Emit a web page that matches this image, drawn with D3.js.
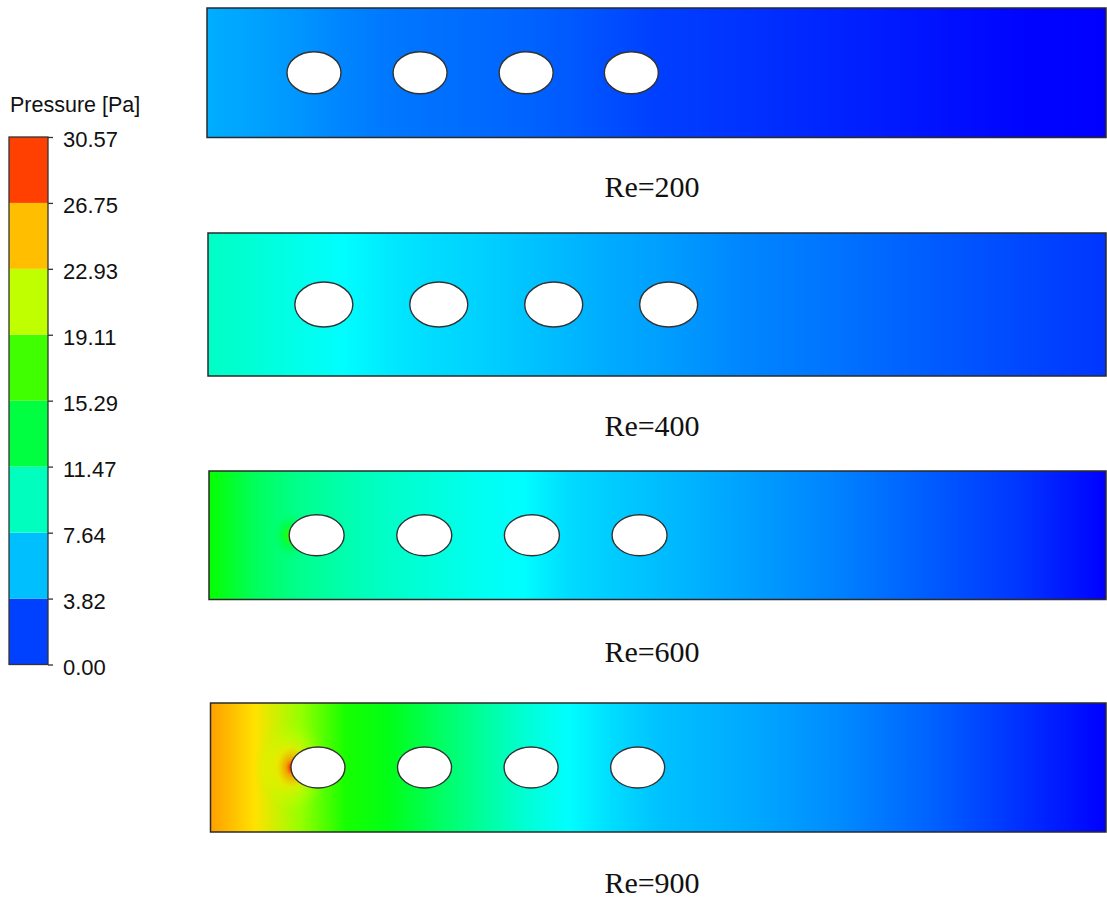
<!DOCTYPE html>
<html>
<head>
<meta charset="utf-8">
<script src="https://cdn.jsdelivr.net/npm/d3@7"></script>
<style>
  body { margin: 0; background: #fff; }
  svg { display: block; }
</style>
</head>
<body>
<div id="chart"></div>
<script>
// pressure contours of the channel, four Reynolds numbers

// data
var reLabels = ["Re=200", "Re=400", "Re=600", "Re=900"];
var legendTicks = [0.00, 3.82, 7.64, 11.47, 15.29, 19.11, 22.93, 26.75, 30.57];
var pMax = 30.57;

// positions along the channel (fraction of length) where the pressure was read
var profileX = [0, 0.05, 0.1, 0.15, 0.2, 0.25, 0.3, 0.35, 0.4, 0.45, 0.5, 0.6, 0.7, 0.8, 0.9, 1.0];
var pressRe200 = [5.2, 4.9, 4.5, 4.0, 3.6, 3.4, 3.2, 3.0, 2.7, 2.3, 1.9, 1.5, 1.05, 0.6, 0.15, 0.0];
var pressRe400 = [9.4, 8.9, 8.3, 7.6, 7.0, 6.6, 6.3, 5.9, 5.5, 5.1, 4.8, 4.0, 3.45, 2.8, 2.2, 1.6];
var pressRe600 = [15.5, 12.6, 11.1, 10.1, 9.3, 8.7, 8.1, 7.6, 6.6, 6.1, 5.7, 4.8, 3.9, 2.8, 1.65, 0.0];
var pressRe900 = [25.8, 23.8, 19.8, 16.0, 14.6, 12.6, 10.8, 9.0, 7.6, 6.6, 5.8, 5.1, 4.2, 3.0, 1.5, 0.0];
var pressures = [pressRe200, pressRe400, pressRe600, pressRe900];

// cylinder centres (fraction of channel length), all on the centre line
var cylRe200 = [0.119, 0.237, 0.355, 0.472];
var cylRe400 = [0.129, 0.257, 0.385, 0.513];
var cylRe600 = [0.120, 0.240, 0.360, 0.480];
var cylRe900 = [0.120, 0.239, 0.358, 0.477];
var cylinders = [cylRe200, cylRe400, cylRe600, cylRe900];
// stagnation pressure in front of the first cylinder (null = not visible)
var stagnation = [null, null, 19.5, 30.5];

// layout
var svgWidth = 1107;
var svgHeight = 901;
var panels = [
  {x: 207, y: 8, w: 899, h: 129.5, rx: 27, ry: 21, label: 197, glow: 0},
  {x: 208, y: 233, w: 898, h: 143, rx: 29, ry: 22.5, label: 436, glow: 0},
  {x: 209, y: 471, w: 897, h: 128.5, rx: 27.5, ry: 20.5, label: 662, glow: 22},
  {x: 210.5, y: 703, w: 895.5, h: 129, rx: 27, ry: 20.5, label: 893, glow: 38}
];

var svg = d3.select("#chart")
  .append("svg")
  .attr("width", svgWidth)
  .attr("height", svgHeight);

svg.append("rect")
  .attr("width", svgWidth)
  .attr("height", svgHeight)
  .attr("fill", "#fff");

var defs = svg.append("defs");

// Fluent style rainbow
var color = d3.scaleLinear()
  .domain([0, 0.25, 0.5, 0.75, 1].map(function(f) { return f * pMax; }))
  .range(["#0000ff", "#00ffff", "#00ff00", "#ffff00", "#ff0000"])
  .clamp(true);

// ---------- legend ----------
var yLegend = d3.scaleLinear()
  .domain([0, pMax])
  .range([664.5, 137]);

var legend = svg.append("g");

legend.append("text")
  .attr("x", 10)
  .attr("y", 112)
  .attr("font-family", "Liberation Sans, Arial, sans-serif")
  .attr("font-size", 21.5)
  .attr("fill", "#111")
  .text("Pressure [Pa]");

var bands = d3.pairs(legendTicks);
legend.selectAll("rect.band")
  .data(bands)
  .enter()
  .append("rect")
  .attr("class", "band")
  .attr("x", 9)
  .attr("width", 39)
  .attr("y", function(d) { return yLegend(d[1]); })
  .attr("height", function(d) { return yLegend(d[0]) - yLegend(d[1]); })
  .attr("fill", function(d) { return color((d[0] + d[1]) / 2); });

legend.append("rect")
  .attr("x", 9)
  .attr("y", yLegend(pMax))
  .attr("width", 39)
  .attr("height", yLegend(0) - yLegend(pMax))
  .attr("fill", "none")
  .attr("stroke", "#333")
  .attr("stroke-width", 1.3);

var legendAxis = legend.append("g")
  .attr("transform", "translate(48,0)")
  .call(d3.axisRight(yLegend)
    .tickValues(legendTicks)
    .tickFormat(d3.format(".2f"))
    .tickSize(5)
    .tickPadding(10));

legendAxis.select(".domain").remove();
legendAxis.selectAll("line").attr("stroke", "#333").attr("stroke-width", 1.3);
legendAxis.selectAll("text")
  .attr("font-family", "Liberation Sans, Arial, sans-serif")
  .attr("font-size", 22)
  .attr("fill", "#111")
  .attr("dy", "0.45em");

// ---------- panels ----------
panels.forEach(function(p, i) {
  var x = d3.scaleLinear().domain([0, 1]).range([p.x, p.x + p.w]);
  var y = d3.scaleLinear().domain([0, 1]).range([p.y, p.y + p.h]);

  // pressure along the channel as a gradient
  var grad = defs.append("linearGradient")
    .attr("id", "field" + i)
    .attr("x1", 0).attr("x2", 1)
    .attr("y1", 0).attr("y2", 0);
  grad.selectAll("stop")
    .data(profileX)
    .enter()
    .append("stop")
    .attr("offset", function(d) { return d; })
    .attr("stop-color", function(d, k) { return color(pressures[i][k]); });

  defs.append("clipPath")
    .attr("id", "clip" + i)
    .append("rect")
    .attr("x", x(0)).attr("y", y(0))
    .attr("width", x(1) - x(0)).attr("height", y(1) - y(0));

  var g = svg.append("g");

  g.append("rect")
    .attr("x", x(0)).attr("y", y(0))
    .attr("width", x(1) - x(0)).attr("height", y(1) - y(0))
    .attr("fill", "url(#field" + i + ")");

  // stagnation region in front of the first cylinder
  if (stagnation[i] !== null) {
    var peak = stagnation[i];
    var base = pressures[i][2];
    var rg = defs.append("radialGradient").attr("id", "stag" + i);
    var steps = [0, 0.15, 0.4, 0.7, 1];
    var alpha = [1, 0.85, 0.55, 0.25, 0];
    rg.selectAll("stop")
      .data(steps)
      .enter()
      .append("stop")
      .attr("offset", function(d) { return d; })
      .attr("stop-color", function(d) { return color(peak - (peak - base) * Math.sqrt(d)); })
      .attr("stop-opacity", function(d, k) { return alpha[k]; });
    g.append("ellipse")
      .attr("clip-path", "url(#clip" + i + ")")
      .attr("cx", x(cylinders[i][0]) - p.rx + 1)
      .attr("cy", y(0.5))
      .attr("rx", p.glow)
      .attr("ry", p.glow * 1.3)
      .attr("fill", "url(#stag" + i + ")");
  }

  g.append("rect")
    .attr("x", x(0)).attr("y", y(0))
    .attr("width", x(1) - x(0)).attr("height", y(1) - y(0))
    .attr("fill", "none")
    .attr("stroke", "#2a2a2a")
    .attr("stroke-width", 1.5);

  g.selectAll("ellipse.cyl")
    .data(cylinders[i])
    .enter()
    .append("ellipse")
    .attr("class", "cyl")
    .attr("cx", function(d) { return x(d); })
    .attr("cy", y(0.5))
    .attr("rx", p.rx)
    .attr("ry", p.ry)
    .attr("fill", "#fff")
    .attr("stroke", "#333")
    .attr("stroke-width", 1.4);

  svg.append("text")
    .attr("x", 652)
    .attr("y", p.label)
    .attr("text-anchor", "middle")
    .attr("font-family", "Liberation Serif, Times New Roman, serif")
    .attr("font-size", 30)
    .attr("fill", "#111")
    .text(reLabels[i]);
});
</script>
</body>
</html>
